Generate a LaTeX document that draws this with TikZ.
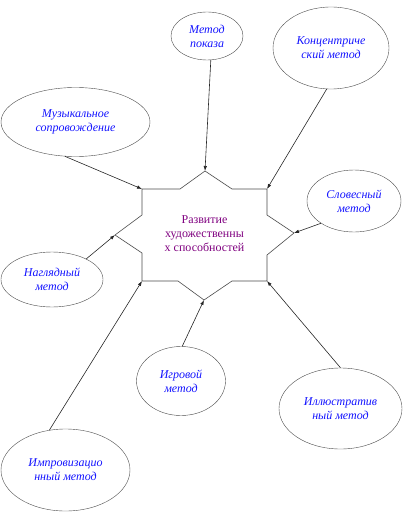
\documentclass[tikz,border=0pt]{standalone}
\usepackage{fontspec}
\setmainfont{Liberation Serif}
\usepackage{xcolor}
\usetikzlibrary{shapes.geometric,arrows.meta}

\definecolor{goalpurple}{RGB}{128,0,128}
\definecolor{methodblue}{RGB}{20,20,255}

\tikzset{
  method/.style={draw=black!70, ellipse, inner sep=0pt, text=methodblue,
    font=\fontsize{12}{14}\selectfont\itshape, align=center},
  link/.style={->, black!85, line width=0.6pt},
}

\begin{document}
\begin{tikzpicture}[x=1pt, y=-1pt, >={Latex[length=5pt,width=3.5pt]}]
      \useasboundingbox (0,0) rectangle (402,524);

      % star points
      \coordinate (st) at (205,171);
      \coordinate (sur) at (267,189);
      \coordinate (sr) at (294,233);
      \coordinate (slr) at (267,281);
      \coordinate (sb) at (204,300);
      \coordinate (sll) at (142,281);
      \coordinate (sl) at (115,235);
      \coordinate (sul) at (142,189);

      \draw[black!70, fill=white, line width=0.6pt] (sul) -- (180,189) -- (st) -- (232,189) -- (sur)
        -- (267,215) -- (sr) -- (267,255) -- (slr) -- (232,281) -- (sb) -- (178,281)
        -- (sll) -- (142,253) -- (sl) -- (142,215) -- cycle;

      \node[text=goalpurple, font=\fontsize{12}{14}\selectfont, align=center] (goal) at (204.5,234)
        {Развитие\\художественны\\х способностей};

      \node[method, minimum width=72, minimum height=48] (show) at (207,36) {Метод\\показа};
      \node[method, minimum width=116, minimum height=82] (conc) at (331,48) {Концентриче\\ский метод};
      \node[method, minimum width=94, minimum height=62] (verbal) at (354,201) {Словесный\\метод};
      \node[method, minimum width=149, minimum height=69] (music) at (75.5,122) {Музыкальное\\сопровождение};
      \node[method, minimum width=102, minimum height=55] (visual) at (52,279.5) {Наглядный\\метод};
      \node[method, minimum width=89, minimum height=69] (game) at (181,381) {Игровой\\метод};
      \node[method, minimum width=123, minimum height=81] (illus) at (340.5,408.5) {Иллюстратив\\ный метод};
      \node[method, minimum width=129, minimum height=82] (impro) at (65.5,470) {Импровизацио\\нный метод};

      \draw[link] (show.-81) -- (st);
      \draw[link] (conc.264) -- (sur);
      \draw[link] (verbal.214) -- (sr);
      \draw[link] (music.253) -- (sul);
      \draw[link] (visual.31) -- (sl);
      \draw[link] (impro.112) -- (sll);
      \draw[link] (game.88) -- (sb);
      \draw[link] (illus.90) -- (slr);
\end{tikzpicture}
\end{document}
